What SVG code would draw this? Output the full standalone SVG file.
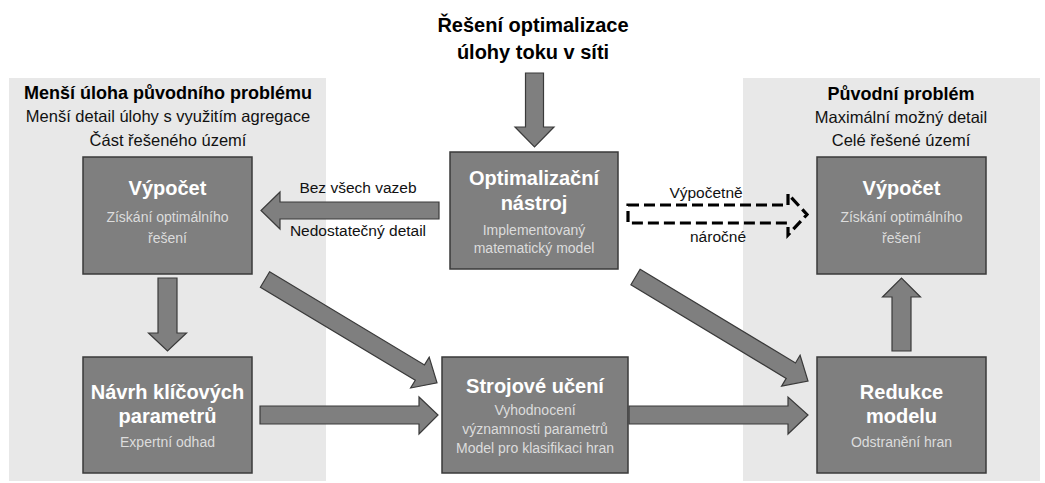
<svg xmlns="http://www.w3.org/2000/svg" width="1045" height="483" viewBox="0 0 1045 483">
<defs>
<style>
.panel{fill:#e8e8e8}
.box{fill:#7f7f7f;stroke:#3a3a3a;stroke-width:1.5}
.arrow{fill:#7f7f7f;stroke:#3a3a3a;stroke-width:1.2;stroke-linejoin:miter}
.dash{fill:none;stroke:#000;stroke-width:3.2;stroke-dasharray:11 5}
text{font-family:"Liberation Sans",Arial,sans-serif;text-anchor:middle}
.t{font-size:18px;font-weight:bold;fill:#000}
.s{font-size:16.5px;fill:#111}
.lbl{font-size:15.5px;fill:#111}
.bt{font-size:20px;font-weight:bold;fill:#fff}
.bs{font-size:14px;fill:#dcdcdc}
.title{font-size:20px;font-weight:bold;fill:#000}
</style>
</defs>
<rect width="1045" height="483" fill="#fff"/>
<g id="panel-left">
<rect class="panel" x="9" y="78" width="317" height="403"/>
<text class="t" x="168" y="99">Menší úloha původního problému</text>
<text class="s" x="168" y="122">Menší detail úlohy s využitím agregace</text>
<text class="s" x="168" y="146">Část řešeného území</text>
</g>
<g id="panel-right">
<rect class="panel" x="743" y="78" width="297" height="403"/>
<text class="t" x="901" y="100">Původní problém</text>
<text class="s" x="901" y="123">Maximální možný detail</text>
<text class="s" x="901" y="146">Celé řešené území</text>
</g>
<g id="title">
<text class="title" x="533" y="32">Řešení optimalizace</text>
<text class="title" x="533" y="59">úlohy toku v síti</text>
</g>
<g id="connectors">
<polygon class="arrow" points="525.5,73 543.5,73 543.5,127 554,127 534.5,147 515,127 525.5,127"/>
<polygon class="arrow" points="439,202 280,202 280,192 261,210.5 280,229 280,219 439,219"/>
<polygon class="arrow" points="158,278 177,278 177,333 186.5,333 167.5,351 148.5,333 158,333"/>
<polygon class="arrow" points="269.6,271.8 424.5,364.9 429.2,357.1 437,382.9 410.6,388 415.3,380.3 260.4,287.2"/>
<polygon class="arrow" points="640.1,269.3 795.5,363 800.1,355.3 808,381 781.6,386.1 786.2,378.4 630.9,284.7"/>
<polygon class="arrow" points="260,406 419,406 419,397 438,415 419,434 419,424 260,424"/>
<polygon class="arrow" points="629,406 788,406 788,397 808,415 788,434 788,424 629,424"/>
<polygon class="arrow" points="892,351 911,351 911,297 920.5,297 901.5,278 882.5,297 892,297"/>
<polygon class="dash" points="628,205 788,205 788,194 807,214.5 788,235 788,223 628,223"/>
<text class="lbl" x="358" y="193">Bez všech vazeb</text>
<text class="lbl" x="358" y="236">Nedostatečný detail</text>
<text class="lbl" x="706" y="198">Výpočetně</text>
<text class="lbl" x="718" y="242">náročné</text>
</g>
<g id="node-vypocet-left">
<rect class="box" x="83" y="157" width="169" height="117"/>
<text class="bt" x="167.5" y="195">Výpočet</text>
<text class="bs" x="167.5" y="222">Získání optimálního</text>
<text class="bs" x="167.5" y="243">řešení</text>
</g>
<g id="node-optimalizacni">
<rect class="box" x="450" y="152" width="168" height="117"/>
<text class="bt" x="534" y="185">Optimalizační</text>
<text class="bt" x="534" y="210">nástroj</text>
<text class="bs" x="534" y="235">Implementovaný</text>
<text class="bs" x="534" y="253">matematický model</text>
</g>
<g id="node-vypocet-right">
<rect class="box" x="817" y="157" width="169" height="117"/>
<text class="bt" x="901.5" y="195">Výpočet</text>
<text class="bs" x="901.5" y="222">Získání optimálního</text>
<text class="bs" x="901.5" y="243">řešení</text>
</g>
<g id="node-navrh">
<rect class="box" x="83" y="357" width="169" height="116"/>
<text class="bt" x="167.5" y="399">Návrh klíčových</text>
<text class="bt" x="167.5" y="423">parametrů</text>
<text class="bs" x="167.5" y="447">Expertní odhad</text>
</g>
<g id="node-strojove">
<rect class="box" x="442" y="357" width="186" height="116"/>
<text class="bt" x="535" y="393">Strojové učení</text>
<text class="bs" x="535" y="415">Vyhodnocení</text>
<text class="bs" x="535" y="434">významnosti parametrů</text>
<text class="bs" x="535" y="453">Model pro klasifikaci hran</text>
</g>
<g id="node-redukce">
<rect class="box" x="817" y="357" width="169" height="116"/>
<text class="bt" x="901.5" y="399">Redukce</text>
<text class="bt" x="901.5" y="423">modelu</text>
<text class="bs" x="901.5" y="447">Odstranění hran</text>
</g>
</svg>
